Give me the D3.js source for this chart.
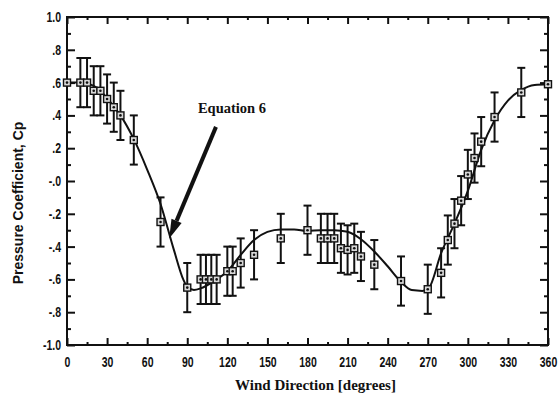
<!DOCTYPE html>
<html>
<head>
<meta charset="utf-8">
<script src="https://cdn.jsdelivr.net/npm/d3@7"></script>
<style>
  body { margin: 0; background: #fff; }
  .tick text { font-family: "Liberation Sans", Arial, sans-serif; font-weight: bold; font-size: 14px; fill: #111; }
</style>
</head>
<body>
<div id="chart"></div>
<script>
// measured points (wind direction, Cp, error half-width)
const directions = [0, 10, 15, 20, 25, 30, 35, 40, 50, 70, 90, 100, 104, 108, 112, 120, 124, 130, 140, 160, 180,
  190, 195, 200, 205, 210, 215, 220, 230, 250, 270, 280, 285, 290, 295, 300, 305, 310, 320, 340, 360];
const cpValues = [0.60, 0.60, 0.60, 0.55, 0.55, 0.50, 0.45, 0.40, 0.25, -0.25, -0.65, -0.60, -0.60, -0.60, -0.60, -0.55, -0.55, -0.50, -0.45, -0.35, -0.30,
  -0.35, -0.35, -0.35, -0.41, -0.42, -0.41, -0.46, -0.51, -0.61, -0.66, -0.56, -0.36, -0.26, -0.12, 0.04, 0.14, 0.24, 0.39, 0.54, 0.59];
const cpErrors = [0, 0.15, 0.15, 0.15, 0.15, 0.15, 0.15, 0.15, 0.15, 0.15, 0.15, 0.15, 0.15, 0.15, 0.15, 0.15, 0.15, 0.15, 0.15, 0.15, 0.15,
  0.15, 0.15, 0.15, 0.15, 0.15, 0.15, 0.15, 0.15, 0.15, 0.15, 0.15, 0.15, 0.15, 0.15, 0.15, 0.15, 0.15, 0.15, 0.15, 0];

// Equation 6 curve
const curveDeg = [0, 10, 15, 20, 25, 30, 35, 40, 50, 60, 70, 80, 87, 90, 95, 100, 110, 120, 130, 140, 150, 160, 170, 180, 190,
  200, 210, 220, 230, 240, 250, 258, 266, 271, 280, 290, 300, 310, 320, 330, 340, 350, 360];
const curveCp = [0.60, 0.60, 0.595, 0.58, 0.55, 0.505, 0.455, 0.40, 0.255, 0.07, -0.14, -0.42, -0.60, -0.645, -0.665, -0.655, -0.61, -0.55, -0.45, -0.36, -0.31, -0.295, -0.295, -0.305, -0.30,
  -0.30, -0.31, -0.355, -0.43, -0.52, -0.615, -0.665, -0.67, -0.65, -0.44, -0.26, -0.06, 0.19, 0.37, 0.49, 0.555, 0.585, 0.59];

const xMajor = d3.range(0, 361, 30);
const xMinor = d3.range(15, 360, 30);
const yMajor = d3.range(-10, 11, 2).map(v => v / 10);
const yMinor = d3.range(-9, 10, 2).map(v => v / 10);

const width = 558, height = 395;
const margin = { top: 17, right: 10, bottom: 50, left: 67 };

const svg = d3.select('#chart').append('svg').attr('width', width).attr('height', height);

const x = d3.scaleLinear().domain([0, 360]).range([margin.left, width - margin.right]);
const y = d3.scaleLinear().domain([-1, 1]).range([height - margin.bottom, margin.top]);

const yFormat = v => {
  if (v === 1) return '1.0';
  if (v === -1) return '-1.0';
  if (v === 0) return '-.0';
  return (v < 0 ? '-' : '') + '.' + Math.round(Math.abs(v) * 10);
};

// axes: major ticks inward with labels, minor ticks inward, on all four sides
const y0 = y(-1), y1 = y(1), x0 = x(0), x1 = x(360);
svg.append('g').attr('transform', `translate(0,${y0})`)
  .call(d3.axisBottom(x).tickValues(xMajor).tickSize(-7).tickPadding(12).tickFormat(d3.format('d')))
  .call(g => g.select('.domain').remove());
svg.append('g').attr('transform', `translate(0,${y0})`)
  .call(d3.axisBottom(x).tickValues(xMinor).tickSize(-3).tickFormat(''))
  .call(g => g.select('.domain').remove());
svg.append('g').attr('transform', `translate(0,${y1})`)
  .call(d3.axisTop(x).tickValues(xMajor).tickSize(-7).tickFormat(''))
  .call(g => g.select('.domain').remove());
svg.append('g').attr('transform', `translate(0,${y1})`)
  .call(d3.axisTop(x).tickValues(xMinor).tickSize(-3).tickFormat(''))
  .call(g => g.select('.domain').remove());
svg.append('g').attr('transform', `translate(${x0},0)`)
  .call(d3.axisLeft(y).tickValues(yMajor).tickSize(-8).tickPadding(8).tickFormat(yFormat))
  .call(g => g.select('.domain').remove());
svg.append('g').attr('transform', `translate(${x0},0)`)
  .call(d3.axisLeft(y).tickValues(yMinor).tickSize(-4).tickFormat(''))
  .call(g => g.select('.domain').remove());
svg.append('g').attr('transform', `translate(${x1},0)`)
  .call(d3.axisRight(y).tickValues(yMajor).tickSize(-8).tickFormat(''))
  .call(g => g.select('.domain').remove());
svg.append('g').attr('transform', `translate(${x1},0)`)
  .call(d3.axisRight(y).tickValues(yMinor).tickSize(-4).tickFormat(''))
  .call(g => g.select('.domain').remove());
svg.selectAll('.tick line').attr('stroke', '#111').attr('stroke-width', 2);
// narrow the tick numbers like the condensed face of the original
svg.selectAll('.tick text').attr('transform', 'scale(0.75,1)');

svg.append('rect')
  .attr('x', x0).attr('y', y1).attr('width', x1 - x0).attr('height', y0 - y1)
  .attr('fill', 'none').attr('stroke', '#111').attr('stroke-width', 2);

// fitted curve
const curve = curveDeg.map((d, i) => [d, curveCp[i]]);
svg.append('path').datum(curve)
  .attr('fill', 'none').attr('stroke', '#111').attr('stroke-width', 2)
  .attr('d', d3.line().x(d => x(d[0])).y(d => y(d[1])).curve(d3.curveMonotoneX));

// error bars and markers
const points = directions.map((d, i) => ({ deg: d, cp: cpValues[i], err: cpErrors[i] }));
const bars = svg.append('g').attr('stroke', '#111').attr('stroke-width', 2)
  .selectAll('g').data(points.filter(p => p.err > 0)).enter().append('g');
bars.append('line')
  .attr('x1', d => x(d.deg)).attr('x2', d => x(d.deg))
  .attr('y1', d => y(d.cp + d.err)).attr('y2', d => y(d.cp - d.err));
bars.append('line')
  .attr('x1', d => x(d.deg) - 4).attr('x2', d => x(d.deg) + 4)
  .attr('y1', d => y(d.cp + d.err)).attr('y2', d => y(d.cp + d.err));
bars.append('line')
  .attr('x1', d => x(d.deg) - 4).attr('x2', d => x(d.deg) + 4)
  .attr('y1', d => y(d.cp - d.err)).attr('y2', d => y(d.cp - d.err));

const marks = svg.append('g').selectAll('g').data(points).enter().append('g');
marks.append('rect')
  .attr('x', d => x(d.deg) - 3.5).attr('y', d => y(d.cp) - 3.5)
  .attr('width', 7).attr('height', 7)
  .attr('fill', '#d8d8d8').attr('stroke', '#111').attr('stroke-width', 1.4);
marks.append('circle')
  .attr('cx', d => x(d.deg)).attr('cy', d => y(d.cp)).attr('r', 1.3)
  .attr('fill', '#111');

// annotation
const note = { text: 'Equation 6', deg: 98, cp: 0.415, fromDeg: 111.5, fromCp: 0.33, toDeg: 76.5, toCp: -0.35 };
svg.append('text')
  .attr('x', x(note.deg)).attr('y', y(note.cp))
  .attr('font-family', '"Liberation Serif", "Times New Roman", serif')
  .attr('font-weight', 'bold').attr('font-size', 14.5).attr('fill', '#111')
  .text(note.text);
const ax = x(note.fromDeg), ay = y(note.fromCp), bx = x(note.toDeg), by = y(note.toCp);
const ang = Math.atan2(by - ay, bx - ax);
const headLen = 19, headHalf = 5.5;
const hx = bx - headLen * Math.cos(ang), hy = by - headLen * Math.sin(ang);
svg.append('line')
  .attr('x1', ax).attr('y1', ay).attr('x2', hx).attr('y2', hy)
  .attr('stroke', '#111').attr('stroke-width', 4);
svg.append('path')
  .attr('d', `M${bx},${by}L${hx + headHalf * Math.sin(ang)},${hy - headHalf * Math.cos(ang)}L${hx - headHalf * Math.sin(ang)},${hy + headHalf * Math.cos(ang)}Z`)
  .attr('fill', '#111');

// axis titles
svg.append('text')
  .attr('x', (x0 + x1) / 2 + 8).attr('y', 390)
  .attr('text-anchor', 'middle')
  .attr('font-family', '"Liberation Serif", "Times New Roman", serif')
  .attr('font-weight', 'bold').attr('font-size', 15).attr('fill', '#111')
  .text('Wind Direction [degrees]');
svg.append('text')
  .attr('transform', `translate(23,${(y0 + y1) / 2 + 22}) rotate(-90)`)
  .attr('text-anchor', 'middle')
  .attr('font-family', '"Liberation Sans", Arial, sans-serif')
  .attr('font-weight', 'bold').attr('font-size', 14).attr('fill', '#111')
  .text('Pressure Coefficient, Cp');
</script>
</body>
</html>
